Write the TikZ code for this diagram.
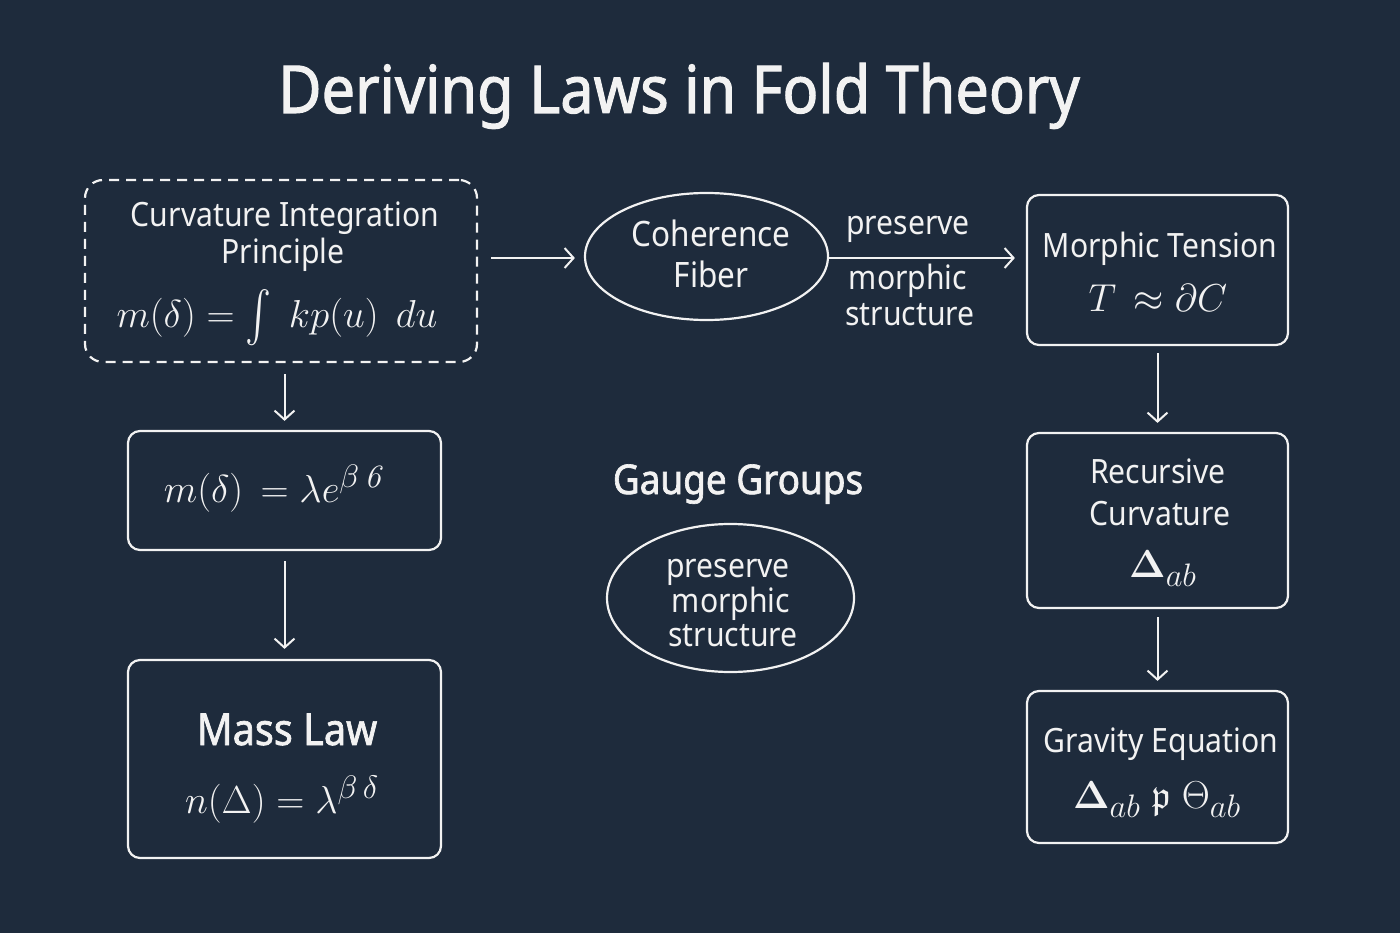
\documentclass[tikz,border=0pt]{standalone}
\usepackage{amssymb}
\usepackage{graphicx}
\usepackage[no-math]{fontspec}
\newfontfamily\tx[FakeStretch=0.9]{Noto Sans}
\newfontfamily\txb[FakeStretch=0.9,FakeBold=1.6]{Noto Sans}
\usetikzlibrary{shapes.geometric,arrows.meta}
\definecolor{bg}{RGB}{30,43,60}
\definecolor{fg}{RGB}{242,242,242}
\newcommand{\bigint}{\mathop{\vcenter{\hbox{\scalebox{1}[1.3]{$\int$}}}}}
\newcommand{\fm}[1]{\scalebox{1.567}{$#1$}}
\begin{document}
\begin{tikzpicture}[x=1pt,y=-1pt,
  box/.style={draw=fg,line width=2.2pt,rounded corners=12pt,inner sep=0pt},
  dbox/.style={box,rounded corners=18pt,dash pattern=on 10pt off 7pt},
  oval/.style={ellipse,draw=fg,line width=2.2pt,inner sep=0pt},
  lbl/.style={text=fg,font=\tx\fontsize{33.5}{40}\selectfont,inner sep=0pt,anchor=base},
  blbl/.style={text=fg,font=\txb\fontsize{41}{46}\selectfont,inner sep=0pt,anchor=base},
  mth/.style={text=fg,font=\fontsize{24.88}{28}\selectfont,inner sep=0pt,anchor=base},
  arr/.style={draw=fg,line width=2pt,-{Straight Barb[length=9pt,width=20pt,line width=2pt]}}]
\fill[bg] (0,0) rectangle (1400,933);
\useasboundingbox (0,0) rectangle (1400,933);

\node[text=fg,font=\txb\fontsize{66}{72}\selectfont,inner sep=0pt,anchor=base] (title) at (679,113) {Deriving Laws in Fold Theory};

% left column
\node[dbox,minimum width=392pt,minimum height=182pt] (cip) at (281,271) {};
\node[lbl] (cipa) at (285,227) {Curvature Integration};
\node[lbl] (cipb) at (283,264) {Principle};
\node[mth] (cipf) at (277,327) {\fm{m(\delta) = \bigint\; kp(u)\;\, du}};

\node[box,minimum width=313pt,minimum height=119pt] (exp) at (284.5,490.5) {};
\node[mth] (expf) at (275,502) {\fm{m(\delta)\, = \lambda e^{\beta\,\mathit{6}}}};

\node[box,minimum width=313pt,minimum height=198pt] (mass) at (284.5,759) {};
\node[blbl,font=\txb\fontsize{44}{48}\selectfont] (massa) at (287,745) {Mass Law};
\node[mth] (massf) at (282,813) {\fm{n(\Delta) = \lambda^{\beta\,\delta}}};

% middle
\node[oval,minimum width=243pt,minimum height=127pt] (cf) at (706.5,256.5) {};
\node[lbl,font=\tx\fontsize{35}{40}\selectfont] (cfa) at (711,247) {Coherence};
\node[lbl,font=\tx\fontsize{35}{40}\selectfont] (cfb) at (711,288) {Fiber};

\node[lbl] (pa) at (908,235) {preserve};
\node[lbl] (pb) at (908,290) {morphic};
\node[lbl] (pc) at (910,325) {structure};

\node[blbl] (gg) at (738,494) {Gauge Groups};
\node[oval,minimum width=247pt,minimum height=148pt] (gge) at (730.5,598) {};
\node[lbl] (gga) at (728,577) {preserve};
\node[lbl] (ggb) at (731,612) {morphic};
\node[lbl] (ggc) at (733,646) {structure};

% right column
\node[box,minimum width=261pt,minimum height=150pt] (mt) at (1157.5,270) {};
\node[lbl] (mta) at (1160,258) {Morphic Tension};
\node[mth] (mtf) at (1158,312) {\fm{T \,\approx \partial C}};

\node[box,minimum width=261pt,minimum height=175pt] (rc) at (1157.5,520.5) {};
\node[lbl] (rca) at (1158,483) {Recursive};
\node[lbl] (rcb) at (1160,525) {Curvature};
\node[mth] (rcf) at (1163,577) {\fm{\mathbf{\Delta}_{ab}}};

\node[box,minimum width=261pt,minimum height=152pt] (ge) at (1157.5,767) {};
\node[lbl] (gea) at (1161,752) {Gravity Equation};
\node[mth] (gef) at (1157,808) {\fm{\mathbf{\Delta}_{ab}\;\mathfrak{p}\;\Theta_{ab}}};

% connectors
\draw[arr,shorten <=11pt,shorten >=9pt] (cip.south -| exp.north) -- (exp.north);
\draw[arr,shorten <=10pt,shorten >=10pt] (exp.south) -- (mass.north);
\draw[arr,shorten <=13pt,shorten >=9pt] (cip.east |- 0,258) -- (cf.west |- 0,258);
\draw[arr,shorten >=11pt] (cf.east |- 0,258) -- (mt.west |- 0,258);
\draw[arr,shorten <=7pt,shorten >=9pt] (mt.south) -- (rc.north);
\draw[arr,shorten <=8pt,shorten >=9pt] (rc.south) -- (ge.north);
\end{tikzpicture}
\end{document}
